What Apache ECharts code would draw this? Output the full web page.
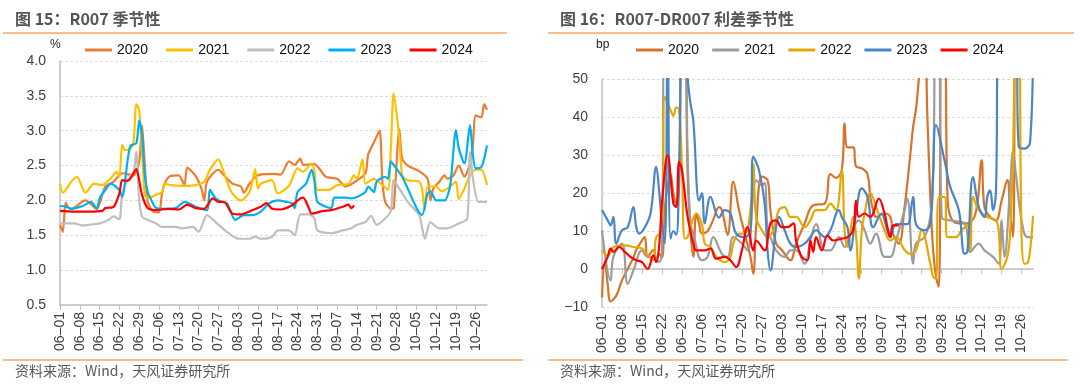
<!DOCTYPE html>
<html><head><meta charset="utf-8">
<script src="https://cdn.jsdelivr.net/npm/echarts@6/dist/echarts.min.js"></script>
<style>html,body{margin:0;padding:0;background:#fff}#c{width:1080px;height:389px}</style>
</head><body><div id="c"></div>
<script>
// ---- categories (daily, 06-01 .. 10-30) ----
const monthSpec = [['06', 30], ['07', 31], ['08', 31], ['09', 30], ['10', 30]];
const dates = [];
monthSpec.forEach(([m, n]) => { for (let d = 1; d <= n; d++) dates.push(m + '-' + String(d).padStart(2, '0')); });

const yearNames = ['2020', '2021', '2022', '2023', '2024'];

// ---- Left chart: R007 (%) ----
const L2020Days = [0,1,2,3,4,9,13,16,19,22,26,28,29,30,31,33,35,36,37,39,42,44,45,48,50,51,52,56,58,61,64,65,67,70,76,78,81,83,85,86,90,92,94,98,101,104,108,109,111,113,114,115,117,118,120,121,123,127,130,131,132,134,136,137,139,141,143,145,146,147,149,150,151];
const L2020 = [1.65,1.55,1.97,1.9,1.88,2.0,1.88,2.2,2.27,2.39,2.36,2.55,3.08,2.5,1.98,1.84,1.83,2.08,2.24,2.35,2.36,2.22,2.47,2.35,2.17,2.0,2.27,2.44,2.36,2.24,2.2,2.11,2.24,2.36,2.38,2.37,2.56,2.51,2.6,2.51,2.52,2.44,2.34,2.31,2.2,2.26,2.39,2.66,2.83,3.0,2.27,1.98,1.88,1.89,3.02,2.6,2.5,2.42,2.31,2.0,2.17,2.26,2.36,2.31,2.35,2.5,2.34,2.53,2.79,3.22,3.19,3.38,3.3];
const L2021Days = [0,1,4,6,9,12,15,18,20,21,22,23,25,26,27,28,29,30,31,34,36,37,39,44,48,51,53,56,57,60,62,64,67,68,69,70,71,75,77,81,84,86,89,90,91,95,98,102,104,105,107,108,111,114,116,117,118,120,121,123,127,128,129,130,133,135,138,140,141,143,145,147,149,151];
const L2021 = [2.24,2.11,2.27,2.34,2.11,2.24,2.22,2.32,2.41,2.34,2.8,2.72,2.75,2.82,3.38,3.3,2.7,2.08,2.03,2.08,2.12,2.24,2.22,2.21,2.22,2.27,2.44,2.59,2.51,2.17,2.05,2.0,2.12,2.27,2.45,2.17,2.24,2.29,2.1,2.21,2.46,2.41,2.53,2.41,2.15,2.15,2.22,2.24,2.36,2.31,2.59,2.24,2.31,2.22,2.15,2.75,3.54,2.89,2.36,2.29,2.27,2.17,1.86,2.2,2.2,2.13,2.2,2.27,2.02,2.17,2.36,2.44,2.44,2.22];
const L2022Days = [0,3,5,8,10,14,17,19,21,22,24,26,27,28,29,30,34,36,41,43,47,49,52,55,59,63,67,69,71,75,77,81,83,85,88,90,91,96,100,103,105,108,110,112,115,117,118,120,123,127,128,129,131,134,137,141,144,145,146,148,151];
const L2022 = [1.67,1.67,1.67,1.64,1.65,1.67,1.72,1.77,1.73,2.1,2.3,2.4,2.7,2.0,1.77,1.74,1.67,1.62,1.62,1.6,1.62,1.55,1.79,1.69,1.55,1.45,1.45,1.48,1.45,1.48,1.57,1.57,1.5,1.8,1.8,1.74,1.57,1.53,1.57,1.6,1.65,1.69,1.78,1.65,1.74,1.85,2.29,2.17,1.98,1.79,1.62,1.45,1.69,1.6,1.6,1.67,1.74,2.7,2.32,1.98,1.98];
const L2023Days = [0,2,4,8,11,13,14,16,18,21,22,24,25,27,28,29,30,31,32,34,37,41,44,48,52,53,55,57,59,62,65,68,71,74,77,80,82,83,84,87,89,90,91,94,96,97,101,103,105,108,109,111,112,115,116,117,118,121,128,130,131,133,136,138,140,141,143,145,146,147,149,150,151];
const L2023 = [1.92,1.91,1.88,1.92,1.98,1.88,2.03,2.15,2.24,2.15,2.05,2.6,2.79,2.82,3.15,2.94,2.36,2.12,2.03,1.89,1.88,1.89,1.98,1.91,1.86,2.15,2.03,1.98,1.96,1.72,1.79,1.79,1.84,1.96,2.0,1.98,1.96,1.89,2.12,2.24,2.44,2.27,1.98,1.91,1.89,2.04,2.04,2.03,2.05,2.12,2.2,2.12,2.27,2.34,2.31,2.56,2.51,2.34,1.79,2.1,2.13,2.0,2.0,2.22,3.01,2.75,2.53,3.08,2.65,2.46,2.48,2.6,2.79];
const L2024Days = [0,5,10,15,16,19,21,22,24,25,27,28,29,31,34,38,42,45,48,51,54,56,58,61,64,68,71,73,75,78,82,85,86,88,89,93,96,100,102,103,104];
const L2024 = [1.85,1.84,1.84,1.85,1.89,1.91,2.1,2.29,2.28,2.32,2.45,2.29,2.08,1.89,1.86,1.88,1.87,1.94,1.89,1.88,2.03,1.98,1.98,1.81,1.8,1.86,1.91,1.96,1.88,1.87,1.93,2.03,2.04,1.89,1.81,1.85,1.86,1.91,1.94,1.89,1.93];

// ---- Right chart: R007-DR007 spread (bp) ----
const R2020Days = [0,1,2,3,5,7,9,11,12,14,15,16,18,19,20,21,22,23,24,25,26,27,28,29,30,31,32,33,34,35,37,39,41,42,44,46,48,50,52,53,54,56,58,59,61,63,66,68,71,74,78,80,82,84,85,86,88,89,91,93,94,95,96,99,101,102,104,106,108,109,110,111,112,113,114,115,116,117,118,119,120,121,122,125,128,131,133,134,136,138,140,142,143,144,145,146,148,151];
const R2020 = [-7.5,2,-4,-8.5,-7,-3,0,3,5,7.5,8.4,3.2,5,2.3,4,3,16,22,25,20,17,22,60,60,25,10,3.2,14.6,12,9.3,10,13,16.3,15.5,9,23,15.5,9.3,3.2,-1.2,11,24.3,23.4,15.5,6.7,5,2.3,6.7,12,16.8,17.2,25,24,26,38.3,32,32,27,26.5,25,19,15.5,13.7,14.6,13.7,9.3,6.7,16.3,30,37.4,42,50,60,60,40,19.4,5,-2,-4.7,60,60,20,14,12,12,15,28.6,16.3,13.7,12.8,18,23.4,15,8.4,60,60,60,60];
const R2021Days = [0,3,4,7,9,11,14,16,18,20,21,22,29,30,31,32,35,37,39,42,44,46,49,51,53,54,56,57,58,59,61,64,66,68,71,73,75,78,80,83,85,87,90,92,94,96,99,101,103,106,107,109,110,113,115,116,117,118,119,122,127,129,132,134,137,139,140,141,143,144,145,147,149,151];
const R2021 = [10.2,-3,3.2,6.7,-3.9,-0.4,4.9,3.2,3.2,1.8,5,60,60,30,12,9.3,2.3,3.2,8.4,4,3.2,8.4,6.7,4.9,20,23.4,22,22.7,10,8.4,4.9,3.2,4.9,4.9,1.4,7.5,11.8,4.9,4.9,8.4,5.8,9.3,12.8,10.2,6.7,9.3,3.2,3.2,7.5,15.5,18.5,1.4,6.7,8.4,13.7,24,60,60,13.7,12.8,12,4.5,6.7,4.9,3.2,1.4,12.8,3.2,21.6,31,25,12.8,8.4,8.4];
const R2022Days = [0,2,4,8,11,14,16,18,19,21,22,24,25,26,27,28,29,30,31,33,35,36,38,40,43,45,46,48,50,52,53,54,56,58,60,62,64,66,68,71,73,75,78,80,82,84,85,86,88,89,90,91,92,94,96,99,101,103,106,108,110,112,115,116,117,118,120,121,124,126,128,129,130,132,135,138,139,140,142,143,144,145,146,147,148,149,150,151];
const R2022 = [4.9,3.6,5.8,6.2,5.8,5.4,3.6,2.3,8.4,10,45.3,41.8,40.3,42.5,42,27,8,8.4,11,14.6,11.8,6.7,5.8,3.2,1.8,3.2,6.7,9.3,9.3,15.5,27.7,13.7,10.2,8.4,10.2,15.5,16.3,13.7,13.7,11,12.8,15.5,15.5,17.2,15.5,26,10,5.8,13.7,9,-2.5,10,14.6,20,16.5,10.2,7.5,8.4,5,4,4.9,10.2,1.5,-2,-2.5,19,19,8.4,8.4,10.2,11.5,5,19,15.5,13.7,12.8,10,0,3.2,10,30,60,60,8.4,1.4,1.5,5,14];
const R2023Days = [0,2,3,4,5,7,9,11,12,13,15,17,19,20,21,22,23,24,25,26,27,28,29,30,31,32,34,35,36,38,41,43,45,47,50,52,53,55,57,58,59,61,62,64,66,68,71,73,75,78,80,83,84,86,87,89,91,93,95,98,99,101,103,105,107,109,110,113,115,116,117,120,122,125,127,128,130,132,134,135,136,137,138,139,145,146,148,150,151];
const R2023 = [15.5,12.8,11.5,13.7,6.7,10.2,11,16.3,11,9.3,11,14.6,26.9,20.7,12,6.7,60,8,10,9,25,60,60,50,43.6,39,18,19.9,12,19,13.5,15.5,14.6,9.3,8.4,10.2,29.5,26,17.2,4.9,-0.4,11,13.7,10.2,6.7,5.8,6.7,8.4,10.2,8.4,10.2,15.5,13.7,11,4.9,14.6,21.2,19,11,14.6,12.8,8.4,11.8,11.8,11.8,19,11.8,10.2,11.8,25,37.9,28.6,21.6,15.5,4,4.5,24.2,16.3,13.7,19,20.7,15.5,20,60,60,32.2,31.7,33.5,60];
const R2024Days = [0,2,3,4,6,8,10,11,12,14,16,18,19,20,21,23,25,26,27,28,30,32,33,36,38,40,43,45,47,49,51,53,54,57,59,61,63,65,67,68,70,72,73,74,75,77,79,81,84,86,88,89,90,92,94,95,97,99,100,101,102,104];
const R2024 = [0,3.2,5.4,4.5,5.8,4.5,3.2,2.7,2.3,1.8,0,3.6,1.8,5.8,17.2,30,17.2,16.3,28.2,26,13.7,6.7,4.9,4.9,5.4,2.7,3.2,2.3,0.5,4.9,11,4.9,7.5,4.9,12,12.8,11,11,12,7.5,3.2,2.3,7.5,4.5,8.4,4.9,8.8,7.5,8,8.4,10.2,18,13.7,14.6,13.7,14.6,18.5,14.6,11,8.4,11.5,11.5];

const leftTicks = [0.5, 4.0, 0.5];   // min, max, interval
const rightTicks = [-10, 50, 10];

const leftColors = ['#ED7D31', '#FFC000', '#BFBFBF', '#00B0F0', '#FF0000'];
const rightColors = ['#D8732C', '#9C9C9C', '#E6A800', '#4A86C5', '#FF0000'];

const leftSets = [[L2020Days, L2020], [L2021Days, L2021], [L2022Days, L2022], [L2023Days, L2023], [L2024Days, L2024]];
const rightSets = [[R2020Days, R2020], [R2021Days, R2021], [R2022Days, R2022], [R2023Days, R2023], [R2024Days, R2024]];
const pairs = (d, v) => d.map((x, i) => [x, v[i]]);

const FONT = '"Liberation Sans", Arial, sans-serif';
const CJK = '"Noto Sans CJK SC", sans-serif';
const labelColor = '#404040';
const axisGray = '#BFBFBF';
const gridGray = '#DCDCDC';

function xCat(gridIndex, opts) {
  return Object.assign({
    type: 'category', gridIndex, data: dates, boundaryGap: false,
    axisLine: { show: true, lineStyle: { color: axisGray, width: 1.5 } },
    axisTick: { show: true, interval: 6, length: 5, lineStyle: { color: axisGray } },
    axisLabel: { show: true, interval: 6, rotate: 90, margin: 7, fontSize: 14, color: labelColor, fontFamily: FONT,
      formatter: v => v.replace('-', '\u2013') },
    splitLine: { show: false }
  }, opts);
}
function yVal(gridIndex, t, fmt) {
  return {
    type: 'value', gridIndex, min: t[0], max: t[1], interval: t[2],
    axisLine: { show: true, lineStyle: { color: axisGray, width: 1.5 } },
    axisTick: { show: false },
    axisLabel: { fontSize: 14, color: labelColor, fontFamily: FONT, margin: 14, formatter: fmt },
    splitLine: { show: true, lineStyle: { color: gridGray, type: [3, 2], width: 1 } }
  };
}

const series = [];
leftSets.forEach(([d, v], i) => series.push({
  name: yearNames[i], type: 'line', xAxisIndex: 0, yAxisIndex: 0, data: pairs(d, v),
  showSymbol: false, smooth: 0.25, lineStyle: { width: 2.2, color: leftColors[i] }, itemStyle: { color: leftColors[i] },
  z: 2 + i
}));
rightSets.forEach(([d, v], i) => series.push({
  name: 'R' + yearNames[i], type: 'line', xAxisIndex: 1, yAxisIndex: 1, data: pairs(d, v),
  showSymbol: false, smooth: 0.4, lineStyle: { width: 2.2, color: rightColors[i] }, itemStyle: { color: rightColors[i] },
  z: 2 + i
}));

const legendCommon = {
  top: 38, itemWidth: 27, itemHeight: 3, icon: 'rect',
  textStyle: { fontSize: 14, color: '#111', fontFamily: FONT }
};

const option = {
  animation: false,
  backgroundColor: '#fff',
  grid: [
    { left: 60, top: 61, right: 593, bottom: 84 },
    { left: 602, top: 79, right: 47, bottom: 82 }
  ],
  xAxis: [
    xCat(0, {}),
    xCat(1, { axisLine: { show: true, onZero: true, lineStyle: { color: axisGray, width: 1.5 } }, axisLabel: { show: false } }),
    xCat(1, { axisLine: { show: false, onZero: false }, axisTick: { show: false }, position: 'bottom' })
  ],
  yAxis: [
    yVal(0, leftTicks, v => v.toFixed(1)),
    yVal(1, rightTicks, v => String(v).replace('-', '\u2212'))
  ],
  legend: [
    Object.assign({}, legendCommon, { left: 80, itemGap: 18, data: yearNames }),
    Object.assign({}, legendCommon, { left: 631, itemGap: 13, data: yearNames.map(n => 'R' + n), formatter: n => n.slice(1) })
  ],
  graphic: [
    { type: 'text', left: 15, top: 11, style: { text: '图 15：R007 季节性', font: 'bold 16px ' + CJK, fill: '#555' } },
    { type: 'text', left: 560, top: 11, style: { text: '图 16：R007-DR007 利差季节性', font: 'bold 16px ' + CJK, fill: '#555' } },
    { type: 'line', shape: { x1: 3, y1: 33, x2: 507, y2: 33 }, style: { stroke: '#F4A66A', lineWidth: 1.5 } },
    { type: 'line', shape: { x1: 548, y1: 33, x2: 1074, y2: 33 }, style: { stroke: '#F4A66A', lineWidth: 1.5 } },
    { type: 'line', shape: { x1: 3, y1: 360, x2: 523, y2: 360 }, style: { stroke: '#F4A66A', lineWidth: 1.5 } },
    { type: 'line', shape: { x1: 548, y1: 360, x2: 1068, y2: 360 }, style: { stroke: '#F4A66A', lineWidth: 1.5 } },
    { type: 'text', left: 50, top: 39, style: { text: '%', font: '12px ' + FONT, fill: '#222' } },
    { type: 'text', left: 596, top: 39, style: { text: 'bp', font: '12px ' + FONT, fill: '#222' } },
    { type: 'text', left: 15, top: 364, style: { text: '资料来源：Wind，天风证券研究所', font: '14px ' + CJK, fill: '#595959' } },
    { type: 'text', left: 560, top: 364, style: { text: '资料来源：Wind，天风证券研究所', font: '14px ' + CJK, fill: '#595959' } }
  ],
  series
};

const chart = echarts.init(document.getElementById('c'), null, { renderer: 'canvas' });
chart.setOption(option);
</script>
</body></html>
